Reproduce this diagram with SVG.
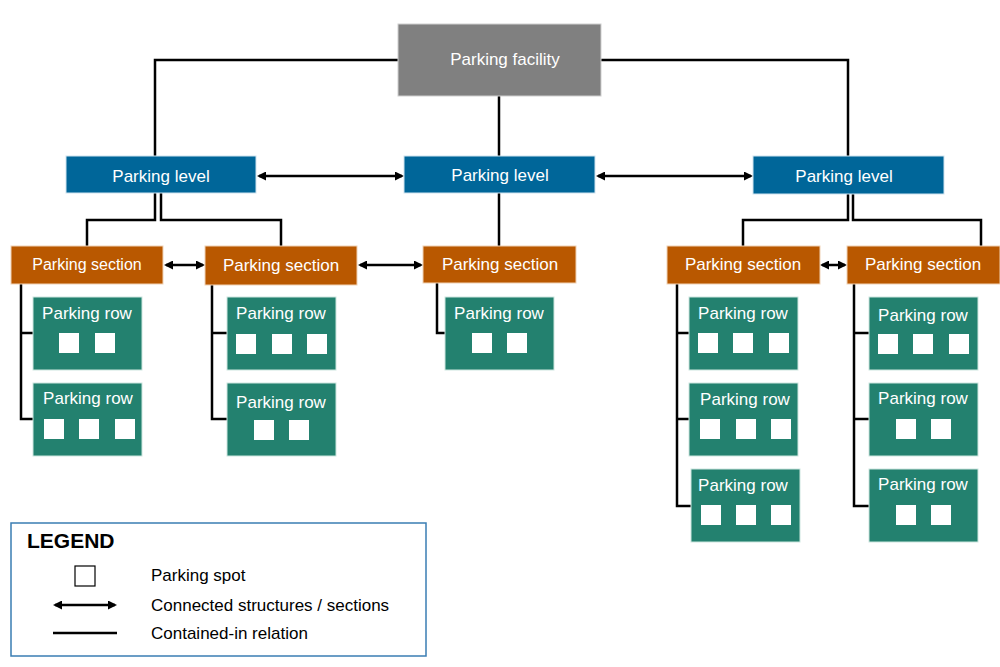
<svg xmlns="http://www.w3.org/2000/svg" width="1000" height="667" viewBox="0 0 1000 667">
<style>
.t{font-family:"Liberation Sans",Arial,sans-serif;font-size:17px;fill:#fff;text-anchor:middle}
.fac{fill:#808080;stroke:#cfcfcf;stroke-width:1}
.lvl{fill:#006699;stroke:#cfe3ef;stroke-width:1}
.sec{fill:#b95800;stroke:#f0d2b5;stroke-width:1}
.row{fill:#23816f;stroke:#cde6df;stroke-width:1}
.spot{fill:#fff}
.c{fill:none;stroke:#000;stroke-width:2.5}
.a{fill:none;stroke:#000;stroke-width:2.5;marker-start:url(#ah);marker-end:url(#ah)}
.lt{font-family:"Liberation Sans",Arial,sans-serif;font-size:17px;fill:#000}
</style>
<defs>
<marker id="ah" markerUnits="userSpaceOnUse" markerWidth="10" markerHeight="9" refX="7" refY="4.5" orient="auto-start-reverse">
<path d="M0,0 L9,4.5 L0,9 z" fill="#000"/>
</marker>
</defs>
<rect width="1000" height="667" fill="#fff"/>
<g id="connectors">
<path class="c" d="M398,60 H155 V156"/>
<path class="c" d="M601,60 H848 V156"/>
<path class="c" d="M499,96 V156"/>
<path class="c" d="M155,193 V220 H87 V246"/>
<path class="c" d="M161,193 V220 H281 V246"/>
<path class="c" d="M499,193 V246"/>
<path class="c" d="M848,194 V220 H743 V246"/>
<path class="c" d="M853,194 V220 H981 V246"/>
<path class="c" d="M21,284 V419 H33 M21,333 H33"/>
<path class="c" d="M212,285 V419 H227 M212,333 H227"/>
<path class="c" d="M437,283 V333 H445"/>
<path class="c" d="M677,284 V506 H691 M677,333 H689 M677,419 H689"/>
<path class="c" d="M854,284 V506 H869 M854,333 H869 M854,419 H869"/>
<line class="a" x1="259" y1="176" x2="402" y2="176"/>
<line class="a" x1="598" y1="176" x2="751" y2="176"/>
<line class="a" x1="166" y1="265" x2="203" y2="265"/>
<line class="a" x1="360" y1="265" x2="421" y2="265"/>
<line class="a" x1="822" y1="265" x2="845" y2="265"/>
</g>
<g id="facility"><rect class="fac" x="398" y="24" width="203" height="72"/><text class="t" x="505" y="65">Parking facility</text></g>
<g id="level1"><rect class="lvl" x="66" y="156" width="190" height="37"/><text class="t" x="161" y="182">Parking level</text></g>
<g id="level2"><rect class="lvl" x="404" y="156" width="191" height="37"/><text class="t" x="500" y="181">Parking level</text></g>
<g id="level3"><rect class="lvl" x="753" y="156" width="191" height="38"/><text class="t" x="844" y="182">Parking level</text></g>
<g id="section1"><rect class="sec" x="11" y="246" width="152" height="38"/><text class="t" x="87" y="270" style="font-size:16px">Parking section</text></g>
<g id="section2"><rect class="sec" x="205" y="246" width="152" height="39"/><text class="t" x="281" y="271">Parking section</text></g>
<g id="section3"><rect class="sec" x="423" y="246" width="153" height="37"/><text class="t" x="500" y="270">Parking section</text></g>
<g id="section4"><rect class="sec" x="667" y="246" width="153" height="38"/><text class="t" x="743" y="270">Parking section</text></g>
<g id="section5"><rect class="sec" x="847" y="246" width="153" height="38"/><text class="t" x="923" y="270">Parking section</text></g>
<g id="row1a"><rect class="row" x="33" y="297" width="109" height="73"/><text class="t" x="87" y="319">Parking row</text>
<rect class="spot" x="59" y="333" width="20" height="20"/><rect class="spot" x="95" y="333" width="20" height="20"/></g>
<g id="row1b"><rect class="row" x="33" y="383" width="109" height="73"/><text class="t" x="88" y="404">Parking row</text>
<rect class="spot" x="44" y="419" width="20" height="20"/><rect class="spot" x="79" y="419" width="20" height="20"/><rect class="spot" x="115" y="419" width="20" height="20"/></g>
<g id="row2a"><rect class="row" x="227" y="297" width="109" height="73"/><text class="t" x="281" y="319">Parking row</text>
<rect class="spot" x="236" y="334" width="20" height="20"/><rect class="spot" x="272" y="334" width="20" height="20"/><rect class="spot" x="307" y="334" width="20" height="20"/></g>
<g id="row2b"><rect class="row" x="227" y="383" width="109" height="73"/><text class="t" x="281" y="408">Parking row</text>
<rect class="spot" x="254" y="420" width="20" height="20"/><rect class="spot" x="289" y="420" width="20" height="20"/></g>
<g id="row3a"><rect class="row" x="445" y="297" width="109" height="73"/><text class="t" x="499" y="319">Parking row</text>
<rect class="spot" x="472" y="333" width="20" height="20"/><rect class="spot" x="507" y="333" width="20" height="20"/></g>
<g id="row4a"><rect class="row" x="689" y="297" width="109" height="73"/><text class="t" x="743" y="319">Parking row</text>
<rect class="spot" x="698" y="333" width="20" height="20"/><rect class="spot" x="733" y="333" width="20" height="20"/><rect class="spot" x="769" y="333" width="20" height="20"/></g>
<g id="row4b"><rect class="row" x="689" y="383" width="109" height="73"/><text class="t" x="745" y="405">Parking row</text>
<rect class="spot" x="700" y="419" width="20" height="20"/><rect class="spot" x="736" y="419" width="20" height="20"/><rect class="spot" x="771" y="419" width="20" height="20"/></g>
<g id="row4c"><rect class="row" x="691" y="469" width="109" height="73"/><text class="t" x="743" y="491">Parking row</text>
<rect class="spot" x="701" y="505" width="20" height="20"/><rect class="spot" x="736" y="505" width="20" height="20"/><rect class="spot" x="771" y="505" width="20" height="20"/></g>
<g id="row5a"><rect class="row" x="869" y="297" width="109" height="73"/><text class="t" x="923" y="321">Parking row</text>
<rect class="spot" x="878" y="334" width="20" height="20"/><rect class="spot" x="913" y="334" width="20" height="20"/><rect class="spot" x="949" y="334" width="20" height="20"/></g>
<g id="row5b"><rect class="row" x="869" y="383" width="109" height="73"/><text class="t" x="923" y="404">Parking row</text>
<rect class="spot" x="896" y="419" width="20" height="20"/><rect class="spot" x="931" y="419" width="20" height="20"/></g>
<g id="row5c"><rect class="row" x="869" y="469" width="109" height="73"/><text class="t" x="923" y="490">Parking row</text>
<rect class="spot" x="896" y="505" width="20" height="20"/><rect class="spot" x="931" y="505" width="20" height="20"/></g>
<g id="legend">
<rect x="11" y="523" width="415" height="133" fill="#fff" stroke="#3a7db3" stroke-width="1.5"/>
<text x="27" y="548" style="font-family:'Liberation Sans',Arial,sans-serif;font-size:21px;font-weight:bold;fill:#000">LEGEND</text>
<rect x="75" y="566" width="20" height="20" fill="#fff" stroke="#000" stroke-width="1.2"/>
<text class="lt" x="151" y="581">Parking spot</text>
<line class="a" x1="55" y1="605" x2="115" y2="605"/>
<text class="lt" x="151" y="611">Connected structures / sections</text>
<line class="c" x1="53" y1="633" x2="117" y2="633"/>
<text class="lt" x="151" y="639">Contained-in relation</text>
</g>
</svg>
